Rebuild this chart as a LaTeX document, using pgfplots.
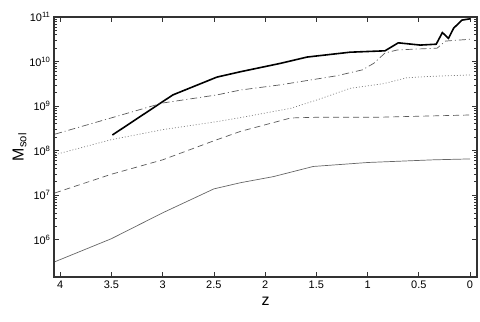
\documentclass[border=0pt]{standalone}
\usepackage{fontspec}
\setmainfont{Liberation Sans}
\usepackage{pgfplots}
\pgfplotsset{compat=1.18}

\begin{document}
\begin{tikzpicture}[x=1bp,y=1bp]
\begin{axis}[
  name=ax,
  scale only axis,
  width=423bp, height=260bp,
  x dir=reverse,
  xmin=-0.068, xmax=4.06,
  ymode=log, ymin=1.45e5, ymax=1e11,
  xtick={0,0.5,...,4},
  xticklabels={0,0.5,1,1.5,2,2.5,3,3.5,4},
  ytick={1e6,1e7,1e8,1e9,1e10,1e11},
  yticklabels={10\textsuperscript{6},10\textsuperscript{7},10\textsuperscript{8},10\textsuperscript{9},10\textsuperscript{10},10\textsuperscript{11}},
  tick align=inside,
  major tick length=5bp, minor tick length=3bp,
  tick style={black!80, line width=0.6bp},
  axis line style={black!80, line width=1.2bp},
  tick label style={font=\fontsize{11}{12}\selectfont},
  xlabel={z}, ylabel={M\textsubscript{sol}},
  label style={font=\fontsize{16}{18}\selectfont},
  xlabel style={yshift=-2bp},
  ylabel style={yshift=-4bp},
  clip=true,
]
% thick line
\addplot[black, line width=1.6bp] coordinates {
  (3.49,2.24e8)(2.90,1.78e9)(2.47,4.47e9)(2.24,5.9e9)(1.85,9.1e9)(1.59,1.26e10)
  (1.17,1.62e10)(0.83,1.74e10)(0.70,2.63e10)(0.485,2.34e10)(0.33,2.45e10)
  (0.27,4.47e10)(0.21,3.31e10)(0.16,5.6e10)(0.08,8.5e10)(0.0,9.1e10)};
% dash-dot
\addplot[black!65, line width=0.7bp, dash pattern=on 7bp off 3bp on 1bp off 3bp] coordinates {
  (4.05,2.34e8)(3.48,5.6e8)(3.0,1.17e9)(2.47,1.78e9)(2.24,2.29e9)(1.85,3.0e9)
  (1.49,4.07e9)(1.30,4.79e9)(1.05,6.5e9)(0.94,9.1e9)(0.83,1.55e10)(0.71,1.82e10)
  (0.32,2.0e10)(0.24,2.88e10)(0.0,3.16e10)};
% dotted
\addplot[black!50, line width=0.7bp, dash pattern=on 1bp off 2bp] coordinates {
  (4.05,8.1e7)(3.51,1.74e8)(3.0,2.95e8)(2.47,4.47e8)(2.24,5.5e8)(1.75,8.9e8)
  (1.49,1.38e9)(1.17,2.5e9)(0.84,3.2e9)(0.62,4.3e9)(0.42,4.6e9)(0.0,5.0e9)};
% dashed
\addplot[black!65, line width=0.7bp, dash pattern=on 6bp off 4bp] coordinates {
  (4.05,1.12e7)(3.51,2.9e7)(3.0,6.2e7)(2.5,1.66e8)(2.24,2.7e8)(1.75,5.4e8)
  (1.49,5.6e8)(0.9,5.6e8)(0.0,6.3e8)};
% thin solid
\addplot[black!60, line width=0.7bp] coordinates {
  (4.05,3.2e5)(3.5,1.05e6)(3.0,4.0e6)(2.5,1.38e7)(2.24,1.9e7)(1.92,2.6e7)
  (1.53,4.4e7)(1.0,5.4e7)(0.36,6.2e7)(0.0,6.5e7)};
\end{axis}
\pgfresetboundingbox
\path ([xshift=-54bp,yshift=-45bp]ax.south west) rectangle ([xshift=3bp,yshift=17bp]ax.north east);
\end{tikzpicture}
\end{document}
